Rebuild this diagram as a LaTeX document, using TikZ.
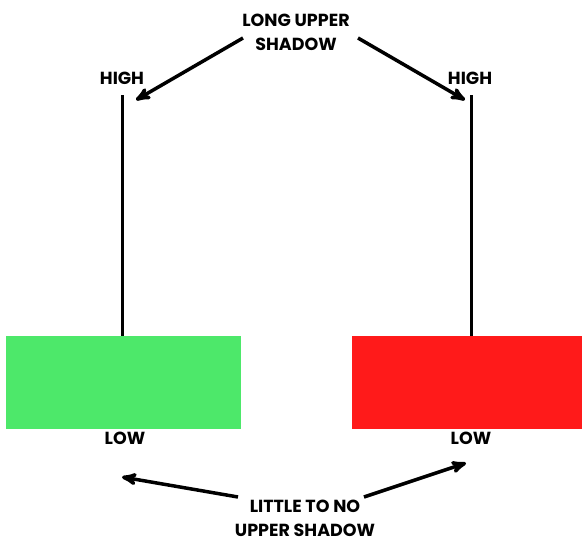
\documentclass[tikz,border=0pt]{standalone}
\usepackage{fontspec}
\setmainfont{Poppins}[BoldFont=* Bold]
\usetikzlibrary{arrows,positioning}

\begin{document}
\begin{tikzpicture}[x=1pt,y=-1pt,>=stealth',thick]

  \tikzstyle{label}=[font=\bfseries\fontsize{17.5}{24}\selectfont,inner sep=1pt,align=center]
  \tikzstyle{body}=[rectangle,minimum width=235pt,minimum height=93pt,inner sep=0pt]
  \tikzstyle{wick}=[line width=3pt]
  \tikzstyle{pointer}=[->,line width=3.5pt]

  \useasboundingbox (0,0) rectangle (582,542);

  % candle bodies
  \node [body,fill={rgb,255:red,77;green,232;blue,106}] (green) at (123.5,382.5) {};
  \node [body,fill={rgb,255:red,255;green,26;blue,26}] (red) at (469.5,382.5) {};

  % labels
  \node [label] (high1) at (122,78) {HIGH};
  \node [label] (high2) at (470,78) {HIGH};
  \node [label] (low1) at (125,438) {LOW};
  \node [label] (low2) at (471,438) {LOW};
  \node [label] (upper) at (296,32) {LONG UPPER\\SHADOW};
  \node [label] (little) at (305,518) {LITTLE TO NO\\UPPER SHADOW};

  % wicks
  \coordinate (top1) at (122,95);
  \coordinate (top2) at (471,95);
  \draw [wick] (green.north -| top1) -- (top1);
  \draw [wick] (red.north -| top2) -- (top2);

  % arrows
  \coordinate (s1) at (243,38);
  \coordinate (s2) at (358,38);
  \coordinate (s3) at (238,497);
  \coordinate (s4) at (364,497);
  \coordinate (a1) at (136,100);
  \coordinate (a2) at (465,100);
  \coordinate (b1) at (122,477);
  \coordinate (b2) at (466,463);
  \draw [pointer] (s1) -- (a1);
  \draw [pointer] (s2) -- (a2);
  \draw [pointer] (s3) -- (b1);
  \draw [pointer] (s4) -- (b2);

\end{tikzpicture}
\end{document}
